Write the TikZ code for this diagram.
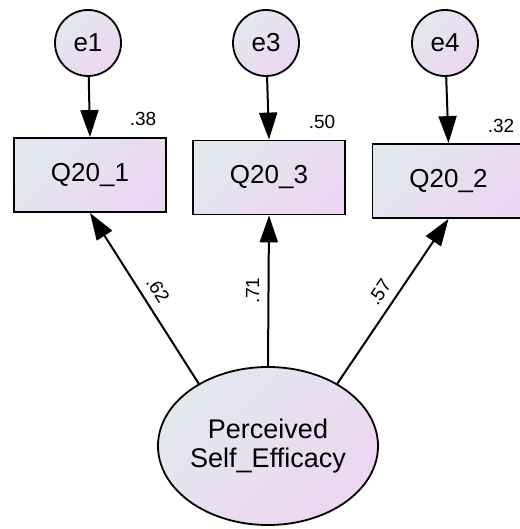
\documentclass[tikz,border=0pt]{standalone}
\usepackage{fontspec}
\setmainfont{Liberation Sans}
\usetikzlibrary{arrows.meta,shapes.geometric}

\definecolor{fillA}{RGB}{226,232,238}
\definecolor{fillB}{RGB}{237,214,242}

\tikzset{
  gradfill/.style={top color=fillA, bottom color=fillB, shading angle=45},
  errvar/.style={circle, draw=black, line width=1.8pt, gradfill,
    minimum size=66pt, inner sep=0pt, font=\fontsize{26}{29}\selectfont},
  obsvar/.style={rectangle, draw=black, line width=1.8pt, gradfill,
    minimum width=152pt, minimum height=74pt, inner sep=0pt,
    font=\fontsize{26}{29}\selectfont},
  latvar/.style={ellipse, draw=black, line width=1.8pt, gradfill,
    minimum width=204pt, minimum height=158pt, inner sep=0pt, align=center,
    font=\fontsize{27}{29}\selectfont},
  path/.style={line width=2pt, -{Triangle[length=27pt,width=18pt]}},
  r2/.style={font=\fontsize{19}{21}\selectfont, inner sep=0pt},
  coef/.style={font=\fontsize{19}{21}\selectfont, sloped, above=5pt, pos=0.5}
}

\begin{document}
\begin{tikzpicture}[x=1pt,y=1pt]
  \useasboundingbox (0,0) rectangle (519,529);

  % error terms
  \node[errvar] (e1) at (88,486) {e1};
  \node[errvar] (e3) at (266,486) {e3};
  \node[errvar] (e4) at (445,486) {e4};

  % observed items
  \node[obsvar] (Q1) at (90,354) {Q20\_1};
  \node[obsvar] (Q3) at (269,351.5) {Q20\_3};
  \node[obsvar] (Q2) at (448.5,348) {Q20\_2};

  % squared multiple correlations
  \node[r2] (r1) at (143,410) {.38};
  \node[r2] (r3) at (322,407) {.50};
  \node[r2] (r4) at (501,403) {.32};

  % latent factor
  \node[latvar] (F) at (268,83) {Perceived\\Self\_Efficacy};

  % error paths
  \draw[path] (e1) -- (Q1.north);
  \draw[path] (e3) -- (Q3.north);
  \draw[path] (e4) -- (Q2.north);

  % factor loadings
  \draw[path] (F.138) -- node[coef] (l1) {.62} (Q1.south);
  \draw[path] (F.north) -- node[coef] (l3) {.71} (Q3.south);
  \draw[path] (F.42) -- node[coef] (l2) {.57} (Q2.south);
\end{tikzpicture}
\end{document}
